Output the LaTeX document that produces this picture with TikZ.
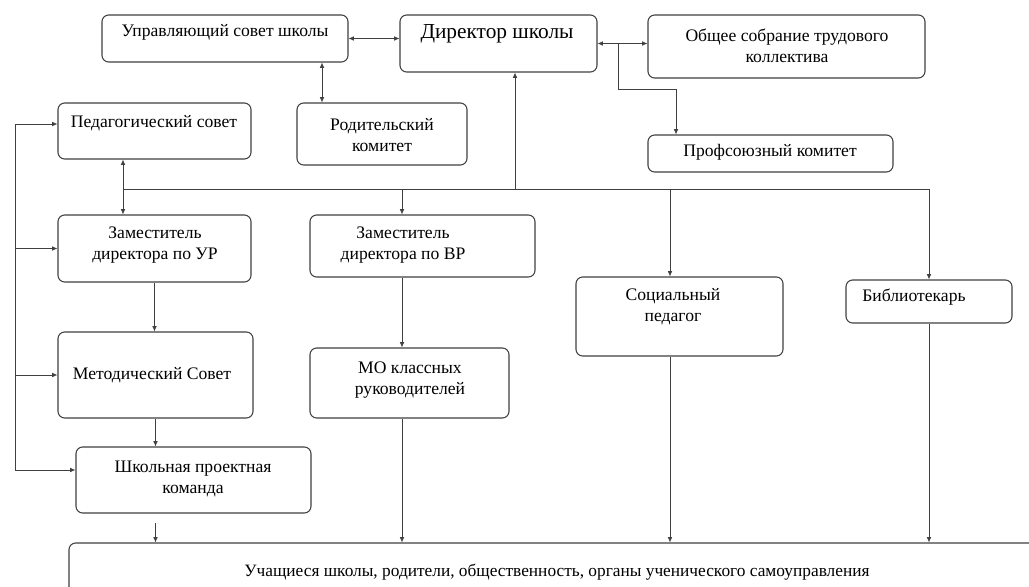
\documentclass[tikz,border=0pt]{standalone}
\usepackage{fontspec}
\setmainfont{Liberation Serif}
\usetikzlibrary{arrows.meta,fit}

\begin{document}
\begin{tikzpicture}[x=0.75pt,y=-0.75pt,
  box/.style={draw=drawColor,line width=0.8pt,rounded corners=5pt,inner sep=0pt},
  txt/.style={text=black,font=\fontsize{13.2}{16}\selectfont,align=center,inner sep=0pt},
  line/.style={draw=drawColor,line width=0.6pt},
  arr/.style={line,-{Latex[length=4pt,width=3.5pt]}},
  both/.style={line,{Latex[length=4pt,width=3.5pt]}-{Latex[length=4pt,width=3.5pt]}}]
\definecolor{drawColor}{gray}{0.25}
\path[use as bounding box,fill=white] (0,0) rectangle (1029,586);
\begin{scope}
\path[clip] (0,0) rectangle (1029,586);

% boxes
\node[box,fit={(102,15) (348,62)}] (usov) {};
\node[box,fit={(400,15) (597,72)}] (dir) {};
\node[box,fit={(648,15) (925,78)}] (obs) {};
\node[box,fit={(297,103) (467,165)}] (rod) {};
\node[box,fit={(58,103) (251,159)}] (ped) {};
\node[box,fit={(648,135) (893,172)}] (prof) {};
\node[box,fit={(58,215) (251,282)}] (zur) {};
\node[box,fit={(310,215) (535,277)}] (zvr) {};
\node[box,fit={(576,277) (783,356)}] (soc) {};
\node[box,fit={(846,280) (1012,323)}] (bib) {};
\node[box,fit={(58,332) (253,418)}] (met) {};
\node[box,fit={(310,348) (509,418)}] (mo) {};
\node[box,fit={(76,447) (311,513)}] (shk) {};
\node[box,fit={(69,543) (1045,600)}] (ucha) {};

% texts
\node[txt] (usov-t) at (225,32) {Управляющий совет школы};
\node[txt,font=\fontsize{16}{19}\selectfont] (dir-t) at (497,34) {Директор школы};
\node[txt] (obs-t) at (787,46) {Общее собрание трудового\\коллектива};
\node[txt] (rod-t) at (382,135) {Родительский\\комитет};
\node[txt] (ped-t) at (154,123) {Педагогический совет};
\node[txt] (prof-t) at (770,152) {Профсоюзный комитет};
\node[txt] (zur-t) at (155,245) {Заместитель\\директора по УР};
\node[txt] (zvr-t) at (403,245) {Заместитель\\директора по ВР};
\node[txt] (soc-t) at (673,307) {Социальный\\педагог};
\node[txt] (bib-t) at (914,297) {Библиотекарь};
\node[txt] (met-t) at (152,375) {Методический Совет};
\node[txt] (mo-t) at (410,380) {МО классных\\руководителей};
\node[txt] (shk-t) at (193,479) {Школьная проектная\\команда};
\node[txt,font=\fontsize{13}{15}\selectfont] (ucha-t) at (557,572) {Учащиеся школы, родители, общественность, органы ученического самоуправления};

% top links
\draw[both] (usov.east) -- (usov.east -| dir.west);
\draw[both] (dir.east) -- (dir.east -| obs.west);
\coordinate (br) at (618,89);
\coordinate (pk) at (676,89);
\draw[line] (br |- dir.east) -- (br) -- (pk);
\draw[arr] (pk) -- (pk |- prof.north);
\coordinate (ur) at (322,80);
\draw[both] (ur |- usov.south) -- (ur |- rod.north);

% bus
\coordinate (bus-l) at (123,189);
\coordinate (bus-d) at (515,189);
\coordinate (bus-v) at (402,189);
\coordinate (bus-s) at (670,189);
\draw[line] (bus-l) -- (bus-l -| bib.north);
\draw[arr] (bus-l) -- (bus-l |- ped.south);
\draw[arr] (bus-d) -- (bus-d |- dir.south);
\draw[arr] (bus-l) -- (bus-l |- zur.north);
\draw[arr] (bus-v) -- (bus-v |- zvr.north);
\draw[arr] (bus-s) -- (bus-s |- soc.north);
\draw[arr] (bus-l -| bib.north) -- (bib.north);

% downwards
\draw[arr] (zur.south) -- (zur.south |- met.north);
\draw[arr] (bus-v |- zvr.south) -- (bus-v |- mo.north);
\draw[arr] (met.south) -- (met.south |- shk.north);
\draw[arr,shorten <=7pt] (met.south |- shk.south) -- (met.south |- ucha.north);
\draw[arr] (bus-v |- mo.south) -- (bus-v |- ucha.north);
\draw[arr] (bus-s |- soc.south) -- (bus-s |- ucha.north);
\draw[arr] (bib.south) -- (bib.south |- ucha.north);

% left line
\coordinate (fb-t) at (15,124);
\coordinate (fb-b) at (15,470);
\draw[line] (fb-t) -- (fb-b);
\draw[arr] (fb-t) -- (fb-t -| ped.west);
\draw[arr] (fb-t |- zur.west) -- (zur.west);
\draw[arr] (fb-t |- met.west) -- (met.west);
\draw[arr] (fb-b) -- (fb-b -| shk.west);
\end{scope}
\end{tikzpicture}
\end{document}
